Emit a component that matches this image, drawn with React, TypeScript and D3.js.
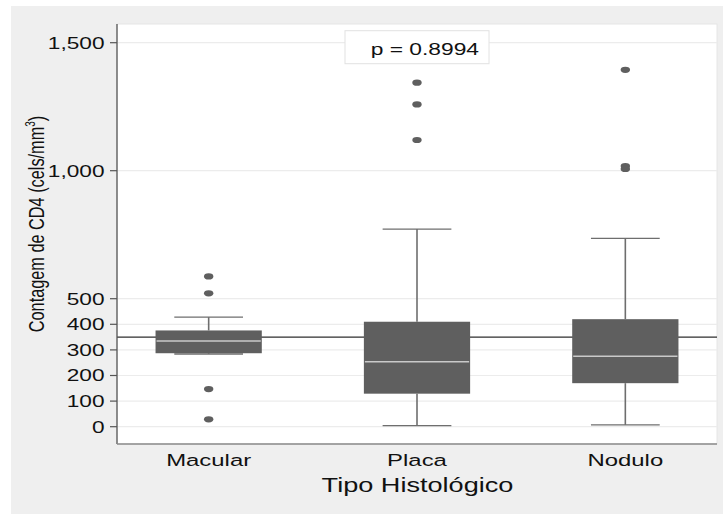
import React from 'react';
import * as d3 from 'd3';

// values
const categories = ['Macular', 'Placa', 'Nodulo'];
const lowerWhisker = [284, 4, 7];
const q1 = [287, 129, 170];
const median = [335, 254, 275];
const q3 = [376, 410, 420];
const upperWhisker = [428, 772, 736];
const outliers = [
  [587, 521, 147, 29],
  [1344, 1259, 1120],
  [1394, 1018, 1007],
];
const yTicks = [0, 100, 200, 300, 400, 500, 1000, 1500];
const refValue = 350;
const pLabel = 'p = 0.8994';

const W = 723;
const H = 514;
const SX = 1.39; // the original picture is stretched horizontally
const FONT = 'Liberation Sans, Arial, Helvetica, sans-serif';

export default function App() {
  const plot = { left: 117, right: 717, top: 24, bottom: 444 };

  const x = d3
    .scalePoint<string>()
    .domain(categories)
    .range([plot.left, plot.right])
    .padding(0.44);
  const step = x.step();
  const boxW = step * 0.51;
  const capW = step * 0.33;

  const y = d3.scaleLinear().domain([0, 1500]).range([426.7, 42.7]);
  const fmt = d3.format(',');

  return (
    <svg
      width={W}
      height={H}
      style={{ position: 'absolute', left: 0, top: 0, display: 'block' }}
      fontFamily={FONT}
    >
      <rect x={0} y={0} width={W} height={H} fill="#ffffff" />
      <rect x={11} y={6} width={W - 11} height={H - 6} fill="#efefef" />
      <rect
        x={plot.left}
        y={plot.top}
        width={plot.right - plot.left}
        height={plot.bottom - plot.top}
        fill="#ffffff"
        stroke="#e6e6e6"
        strokeWidth={1}
      />

      {/* grid */}
      {yTicks.map((t) => (
        <line
          key={'g' + t}
          x1={plot.left}
          x2={plot.right}
          y1={y(t)}
          y2={y(t)}
          stroke="#ececec"
          strokeWidth={1.2}
        />
      ))}

      {/* reference line, boxes are drawn over it */}
      <line
        x1={plot.left}
        x2={plot.right}
        y1={y(refValue)}
        y2={y(refValue)}
        stroke="#2e2e2e"
        strokeWidth={1.2}
      />

      {/* boxes */}
      {categories.map((c, i) => {
        const cx = x(c) as number;
        return (
          <g key={c}>
            <line x1={cx} x2={cx} y1={y(upperWhisker[i])} y2={y(q3[i])} stroke="#6e6e6e" strokeWidth={1.6} />
            <line x1={cx} x2={cx} y1={y(q1[i])} y2={y(lowerWhisker[i])} stroke="#6e6e6e" strokeWidth={1.6} />
            <line
              x1={cx - capW / 2}
              x2={cx + capW / 2}
              y1={y(upperWhisker[i])}
              y2={y(upperWhisker[i])}
              stroke="#6e6e6e"
              strokeWidth={1.3}
            />
            <line
              x1={cx - capW / 2}
              x2={cx + capW / 2}
              y1={y(lowerWhisker[i])}
              y2={y(lowerWhisker[i])}
              stroke="#6e6e6e"
              strokeWidth={1.3}
            />
            <rect
              x={cx - boxW / 2}
              y={y(q3[i])}
              width={boxW}
              height={y(q1[i]) - y(q3[i])}
              fill="#5f5f5f"
            />
            <line
              x1={cx - boxW / 2 + 1}
              x2={cx + boxW / 2 - 1}
              y1={y(median[i])}
              y2={y(median[i])}
              stroke="#c9c9c9"
              strokeWidth={1.4}
            />
            {outliers[i].map((v, j) => (
              <ellipse key={j} cx={cx} cy={y(v)} rx={4.7} ry={3.1} fill="#5f5f5f" />
            ))}
          </g>
        );
      })}

      {/* axes */}
      <line x1={plot.left} x2={plot.left} y1={plot.top} y2={plot.bottom} stroke="#555" strokeWidth={1.3} />
      <line x1={plot.left} x2={plot.right} y1={plot.bottom} y2={plot.bottom} stroke="#8a8a8a" strokeWidth={1.3} />
      {yTicks.map((t) => (
        <g key={'t' + t}>
          <line x1={plot.left - 7} x2={plot.left} y1={y(t)} y2={y(t)} stroke="#555" strokeWidth={1.2} />
          <text
            transform={`translate(104.5,${y(t) + 5.9}) scale(${SX},1)`}
            textAnchor="end"
            fontSize={16.3}
            fill="#111"
          >
            {fmt(t)}
          </text>
        </g>
      ))}
      {categories.map((c) => (
        <text
          key={'x' + c}
          transform={`translate(${x(c)},465.7) scale(${SX},1)`}
          textAnchor="middle"
          fontSize={17.2}
          fill="#111"
        >
          {c}
        </text>
      ))}
      <text
        transform={`translate(417.5,491.7) scale(${SX},1)`}
        textAnchor="middle"
        fontSize={19.5}
        fill="#111"
      >
        Tipo Histológico
      </text>
      <text
        transform={`translate(43.5,224) scale(${SX},1) rotate(-90)`}
        textAnchor="middle"
        fontSize={16.3}
        fill="#111"
      >
        Contagem de CD4 (cels/mm
        <tspan dy={-6} fontSize={10}>3</tspan>
        <tspan dy={6}>)</tspan>
      </text>

      {/* p-value box */}
      <rect x={345} y={30.7} width={144} height={33} fill="#ffffff" stroke="#e2e2e2" strokeWidth={1} />
      <text
        transform={`translate(479,55) scale(${SX},1)`}
        textAnchor="end"
        fontSize={16.4}
        fill="#111"
      >
        {pLabel}
      </text>
    </svg>
  );
}
